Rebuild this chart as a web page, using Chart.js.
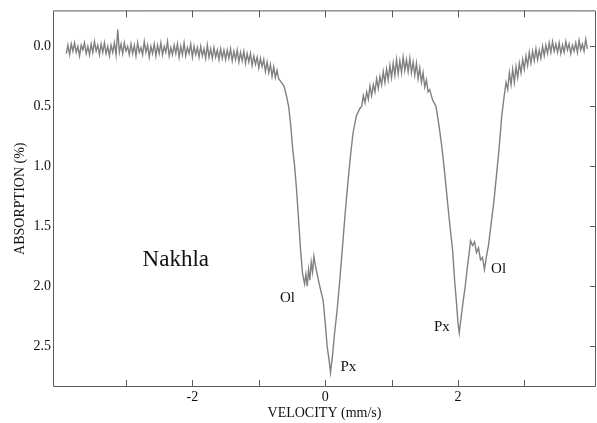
<!DOCTYPE html>
<html>
<head>
<meta charset="utf-8">
<script src="https://cdn.jsdelivr.net/npm/chart.js@4/dist/chart.umd.min.js"></script>
<style>
  html, body { margin: 0; padding: 0; background: #fff; }
  canvas { display: block; }
</style>
</head>
<body>
<canvas id="spectrum" width="597" height="423"></canvas>
<script>
// velocity (mm/s) and absorption (%), row by row
const velocity = [
  // left baseline
  -3.900, -3.875, -3.850, -3.825, -3.800, -3.775, -3.750, -3.725,
  -3.700, -3.675, -3.650, -3.625, -3.600, -3.575, -3.550, -3.525,
  -3.500, -3.475, -3.450, -3.425, -3.400, -3.375, -3.350, -3.325,
  -3.300, -3.275, -3.250, -3.225, -3.200, -3.175, -3.150, -3.125,
  -3.100, -3.075, -3.050, -3.025, -3.000, -2.975, -2.950, -2.925,
  -2.900, -2.875, -2.850, -2.825, -2.800, -2.775, -2.750, -2.725,
  -2.700, -2.675, -2.650, -2.625, -2.600, -2.575, -2.550, -2.525,
  -2.500, -2.475, -2.450, -2.425, -2.400, -2.375, -2.350, -2.325,
  -2.300, -2.275, -2.250, -2.225, -2.200, -2.175, -2.150, -2.125,
  -2.100, -2.075, -2.050, -2.025, -2.000, -1.975, -1.950, -1.925,
  -1.900, -1.875, -1.850, -1.825, -1.800, -1.775, -1.750, -1.725,
  -1.700, -1.675, -1.650, -1.625, -1.600, -1.575, -1.550, -1.525,
  -1.500, -1.475, -1.450, -1.425, -1.400, -1.375, -1.350, -1.325,
  -1.300, -1.275, -1.250, -1.225, -1.200, -1.175, -1.150, -1.125,
  -1.100, -1.075, -1.050, -1.025, -1.000, -0.975, -0.950, -0.925,
  -0.900, -0.875, -0.850, -0.825, -0.800, -0.775, -0.750, -0.725,
  // left doublet (Ol + Px)
  -0.70, -0.66, -0.62, -0.58, -0.55, -0.52, -0.49, -0.46, -0.43, -0.40,
  -0.37, -0.34, -0.31, -0.29, -0.27, -0.25, -0.23, -0.21, -0.19, -0.17,
  -0.15, -0.12, -0.09, -0.06, -0.03, 0.00, 0.03, 0.06, 0.08, 0.11,
  0.14, 0.18, 0.22, 0.26, 0.30, 0.34, 0.38, 0.42, 0.47, 0.52,
  // central hump
  0.550, 0.575, 0.600, 0.625, 0.650, 0.675, 0.700, 0.725, 0.750, 0.775,
  0.800, 0.825, 0.850, 0.875, 0.900, 0.925, 0.950, 0.975, 1.000, 1.025,
  1.050, 1.075, 1.100, 1.125, 1.150, 1.175, 1.200, 1.225, 1.250, 1.275,
  1.300, 1.325, 1.350, 1.375, 1.400, 1.425, 1.450, 1.475, 1.500, 1.525,
  1.550, 1.575,
  // right doublet (Px + Ol)
  1.62, 1.67, 1.72, 1.76, 1.80, 1.84, 1.88, 1.92, 1.95, 1.98,
  2.00, 2.02, 2.05, 2.08, 2.11, 2.14, 2.17, 2.19, 2.22, 2.25,
  2.28, 2.31, 2.34, 2.37, 2.40, 2.43, 2.46, 2.50, 2.54, 2.58,
  2.62, 2.66,
  // right baseline
  2.700, 2.725, 2.750, 2.775, 2.800, 2.825, 2.850, 2.875, 2.900, 2.925,
  2.950, 2.975, 3.000, 3.025, 3.050, 3.075, 3.100, 3.125, 3.150, 3.175,
  3.200, 3.225, 3.250, 3.275, 3.300, 3.325, 3.350, 3.375, 3.400, 3.425,
  3.450, 3.475, 3.500, 3.525, 3.550, 3.575, 3.600, 3.625, 3.650, 3.675,
  3.700, 3.725, 3.750, 3.775, 3.800, 3.825, 3.850, 3.875, 3.900, 3.925,
  3.950
];
const absorption = [
  // left baseline
  0.06, -0.01, 0.07, -0.02, 0.04, -0.03, 0.05, 0.00,
  0.08, -0.01, 0.03, -0.03, 0.06, 0.00, 0.07, -0.02,
  0.05, -0.04, 0.04, -0.01, 0.07, -0.02, 0.05, -0.03,
  0.06, 0.00, 0.08, -0.01, 0.05, -0.03, 0.07, -0.14,
  0.05, -0.02, 0.06, -0.03, 0.04, 0.00, 0.07, -0.02,
  0.06, -0.01, 0.08, -0.03, 0.05, 0.01, 0.07, -0.04,
  0.05, -0.01, 0.09, 0.00, 0.06, -0.02, 0.08, -0.01,
  0.06, -0.03, 0.07, 0.00, 0.05, -0.04, 0.08, 0.01,
  0.07, -0.01, 0.06, -0.02, 0.09, 0.00, 0.07, -0.03,
  0.08, 0.01, 0.06, -0.02, 0.09, 0.00, 0.07, 0.01,
  0.09, 0.00, 0.08, 0.02, 0.10, -0.01, 0.09, 0.02,
  0.10, 0.01, 0.09, 0.03, 0.11, 0.02, 0.10, 0.03,
  0.11, 0.03, 0.10, 0.02, 0.12, 0.04, 0.11, 0.03,
  0.13, 0.05, 0.12, 0.04, 0.14, 0.06, 0.13, 0.06,
  0.16, 0.08, 0.15, 0.09, 0.18, 0.10, 0.17, 0.11,
  0.21, 0.13, 0.22, 0.15, 0.25, 0.17, 0.26, 0.20,
  // left doublet (Ol + Px)
  0.27, 0.30, 0.33, 0.42, 0.50, 0.65, 0.85, 1.00, 1.20, 1.45,
  1.70, 1.90, 1.98, 1.90, 2.00, 1.86, 1.95, 1.80, 1.88, 1.75,
  1.82, 1.90, 1.98, 2.05, 2.12, 2.30, 2.50, 2.62, 2.72, 2.58,
  2.40, 2.20, 1.95, 1.68, 1.40, 1.15, 0.92, 0.72, 0.58, 0.52,
  // central hump
  0.50, 0.41, 0.47, 0.38, 0.44, 0.33, 0.41, 0.32, 0.38, 0.27,
  0.35, 0.25, 0.32, 0.21, 0.30, 0.19, 0.28, 0.16, 0.26, 0.14,
  0.24, 0.11, 0.23, 0.12, 0.22, 0.09, 0.20, 0.11, 0.21, 0.10,
  0.22, 0.13, 0.24, 0.14, 0.27, 0.18, 0.30, 0.22, 0.34, 0.28,
  0.38, 0.36,
  // right doublet (Px + Ol)
  0.45, 0.50, 0.68, 0.85, 1.05, 1.28, 1.50, 1.70, 1.95, 2.15,
  2.30, 2.39, 2.25, 2.12, 2.00, 1.85, 1.72, 1.62, 1.66, 1.63,
  1.72, 1.68, 1.78, 1.76, 1.86, 1.75, 1.66, 1.48, 1.30, 1.08,
  0.85, 0.58,
  // right baseline
  0.40, 0.30, 0.36, 0.22, 0.32, 0.19, 0.30, 0.17, 0.26, 0.14,
  0.22, 0.11, 0.19, 0.08, 0.16, 0.05, 0.14, 0.04, 0.12, 0.02,
  0.11, 0.03, 0.10, 0.00, 0.08, -0.01, 0.06, -0.03, 0.05, -0.04,
  0.04, -0.02, 0.05, -0.03, 0.06, -0.01, 0.05, -0.04, 0.03, -0.02,
  0.06, -0.01, 0.04, -0.03, 0.05, -0.05, 0.03, -0.02, 0.04, -0.06,
  0.02
];

const xTicks = [-3, -2, -1, 0, 1, 2, 3];
const yTicks = [0, 0.5, 1.0, 1.5, 2.0, 2.5];

// text on the plot: [text, velocity, absorption at baseline, font size]
const notes = [
  ['Nakhla', -2.75, 1.83, 23],
  ['Ol', -0.68, 2.13, 15],
  ['Px', 0.23, 2.71, 15],
  ['Px', 1.64, 2.37, 15],
  ['Ol', 2.50, 1.89, 15]
];

const serif = '"Liberation Serif", "Times New Roman", serif';
const axisColor = '#5a5a5a';

// box round the plot, inward ticks on top/bottom/right, and the labels
const framePlugin = {
  id: 'frame',
  afterDraw(chart) {
    const { ctx, chartArea: a, scales: { x, y } } = chart;
    ctx.save();
    ctx.strokeStyle = axisColor;
    ctx.lineWidth = 1;
    ctx.beginPath();
    ctx.moveTo(a.left + 0.5, a.top + 0.5);
    ctx.lineTo(a.right - 0.5, a.top + 0.5);
    ctx.lineTo(a.right - 0.5, a.bottom - 0.5);
    ctx.lineTo(a.left + 0.5, a.bottom - 0.5);
    ctx.closePath();
    ctx.stroke();

    ctx.beginPath();
    xTicks.forEach(v => {
      const px = Math.round(x.getPixelForValue(v)) + 0.5;
      ctx.moveTo(px, a.bottom);
      ctx.lineTo(px, a.bottom - 7);
      ctx.moveTo(px, a.top);
      ctx.lineTo(px, a.top + 7);
    });
    yTicks.forEach(v => {
      const py = Math.round(y.getPixelForValue(v)) + 0.5;
      ctx.moveTo(a.right, py);
      ctx.lineTo(a.right - 6, py);
    });
    ctx.stroke();

    ctx.fillStyle = '#111';
    ctx.textAlign = 'left';
    ctx.textBaseline = 'alphabetic';
    notes.forEach(([text, v, ab, size]) => {
      ctx.font = size + 'px ' + serif;
      ctx.fillText(text, x.getPixelForValue(v), y.getPixelForValue(ab));
    });
    ctx.restore();
  }
};

new Chart(document.getElementById('spectrum'), {
  type: 'line',
  data: {
    datasets: [{
      data: velocity.map((v, i) => ({ x: v, y: absorption[i] })),
      borderColor: '#808080',
      borderWidth: 1.4,
      pointRadius: 0,
      tension: 0,
      fill: false
    }]
  },
  options: {
    responsive: false,
    animation: false,
    devicePixelRatio: 1,
    layout: { padding: { top: 9, right: 1, left: 0, bottom: 0 } },
    plugins: { legend: { display: false }, tooltip: { enabled: false } },
    scales: {
      x: {
        type: 'linear',
        min: -4.1,
        max: 4.08,
        afterBuildTicks: s => { s.ticks = xTicks.map(v => ({ value: v })); },
        afterFit: s => { s.height = 36; },
        grid: { display: false, drawTicks: false },
        border: { display: false },
        ticks: {
          autoSkip: false,
          maxRotation: 0,
          padding: 2,
          color: '#111',
          font: { family: serif, size: 14 },
          callback: v => (v % 2 === 0 ? String(v) : '')
        },
        title: {
          display: true,
          text: 'VELOCITY (mm/s)',
          color: '#111',
          font: { family: serif, size: 14 },
          padding: { top: 0, bottom: 1 }
        }
      },
      y: {
        type: 'linear',
        reverse: true,
        min: -0.3,
        max: 2.84,
        afterBuildTicks: s => { s.ticks = yTicks.map(v => ({ value: v })); },
        afterFit: s => { s.width = 53; },
        grid: { display: false, drawTicks: false },
        border: { display: false },
        ticks: {
          padding: 2,
          color: '#111',
          font: { family: serif, size: 14 },
          callback: v => v.toFixed(1)
        },
        title: {
          display: true,
          text: 'ABSORPTION (%)',
          color: '#111',
          font: { family: serif, size: 14 },
          padding: { top: 12, bottom: 0 }
        }
      }
    }
  },
  plugins: [framePlugin]
});
</script>
</body>
</html>
